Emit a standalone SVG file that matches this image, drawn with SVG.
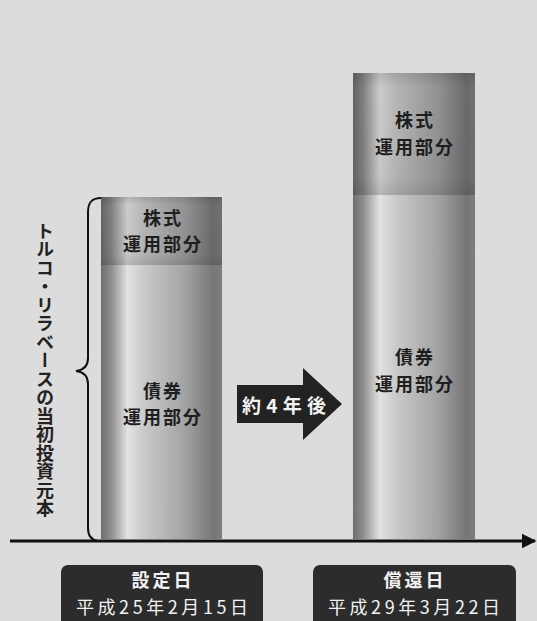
<svg xmlns="http://www.w3.org/2000/svg" width="537" height="621" viewBox="0 0 537 621">
<defs>
<linearGradient id="barG" x1="0" y1="0" x2="1" y2="0">
<stop offset="0" stop-color="#6e6e6e"/>
<stop offset="0.08" stop-color="#8c8c8c"/>
<stop offset="0.22" stop-color="#e2e2e2"/>
<stop offset="0.35" stop-color="#cacaca"/>
<stop offset="0.7" stop-color="#a2a2a2"/>
<stop offset="0.93" stop-color="#767676"/>
<stop offset="1" stop-color="#7e7e7e"/>
</linearGradient>
<linearGradient id="stockShade" x1="0" y1="0" x2="0" y2="1">
<stop offset="0" stop-color="#000" stop-opacity="0.2"/>
<stop offset="0.12" stop-color="#000" stop-opacity="0.1"/>
<stop offset="0.85" stop-color="#000" stop-opacity="0.12"/>
<stop offset="1" stop-color="#000" stop-opacity="0.2"/>
</linearGradient>
<marker id="axisHead" viewBox="0 0 10 10" refX="9" refY="5" markerWidth="5" markerHeight="5" markerUnits="strokeWidth" orient="auto">
<path d="M0,0 L10,5 L0,10 Z" fill="#111"/>
</marker>
<style>
.lbl{font-family:"Noto Sans CJK JP","Noto Sans",sans-serif;font-weight:bold;font-size:18px;letter-spacing:2px;fill:#1e1e1e;text-anchor:middle}
.wlbl{font-family:"Noto Sans CJK JP","Noto Sans",sans-serif;font-weight:bold;fill:#f2f2f2;text-anchor:middle}
.date{font-weight:normal}
.box{fill:#2c2c2c}
.bar{fill:url(#barG)}
.shade{fill:url(#stockShade)}
</style>
</defs>
<rect width="537" height="621" fill="#dcdcdc"/>

<g id="connectors">
<line x1="10" y1="541" x2="535" y2="541" stroke="#111" stroke-width="3" marker-end="url(#axisHead)"/>
<path d="M237,385 L303,385 L303,368 L342,404 L303,440 L303,423 L237,423 Z" fill="#222"/>
<text class="wlbl" x="284" y="413" font-size="19" textLength="84" lengthAdjust="spacing">約4年後</text>
</g>

<g id="left-bar">
<rect class="bar" x="101" y="197" width="121" height="342"/>
<rect class="shade" x="101" y="197" width="121" height="68"/>
<text class="lbl" x="163" y="225">株式</text>
<text class="lbl" x="163" y="251">運用部分</text>
<text class="lbl" x="163" y="398">債券</text>
<text class="lbl" x="163" y="424">運用部分</text>
</g>

<g id="right-bar">
<rect class="bar" x="353" y="73" width="122" height="466"/>
<rect class="shade" x="353" y="73" width="122" height="122"/>
<text class="lbl" x="415" y="127">株式</text>
<text class="lbl" x="415" y="154">運用部分</text>
<text class="lbl" x="415" y="364">債券</text>
<text class="lbl" x="415" y="391">運用部分</text>
</g>

<g id="principal-brace">
<path d="M101,198 C92,198 88,202 88,212 L88,358 C88,366 84,370 76,371 C84,372 88,376 88,384 L88,528 C88,536 91,540 98,541" fill="none" stroke="#111" stroke-width="2"/>
<text x="45" y="222" style="writing-mode:vertical-rl" font-family="'Noto Sans CJK JP',sans-serif" font-weight="bold" font-size="18" fill="#222" letter-spacing="0.5">トルコ・リラベースの当初投資元本</text>
</g>

<g id="start-date">
<rect class="box" x="61" y="565" width="202" height="70" rx="7"/>
<text class="wlbl" x="163" y="587" font-size="18" letter-spacing="3">設定日</text>
<text class="wlbl date" x="162" y="614" font-size="18" textLength="172" lengthAdjust="spacing">平成25年2月15日</text>
</g>

<g id="redemption-date">
<rect class="box" x="313" y="565" width="203" height="70" rx="7"/>
<text class="wlbl" x="415" y="587" font-size="18" letter-spacing="3">償還日</text>
<text class="wlbl date" x="414" y="614" font-size="18" textLength="172" lengthAdjust="spacing">平成29年3月22日</text>
</g>
</svg>
